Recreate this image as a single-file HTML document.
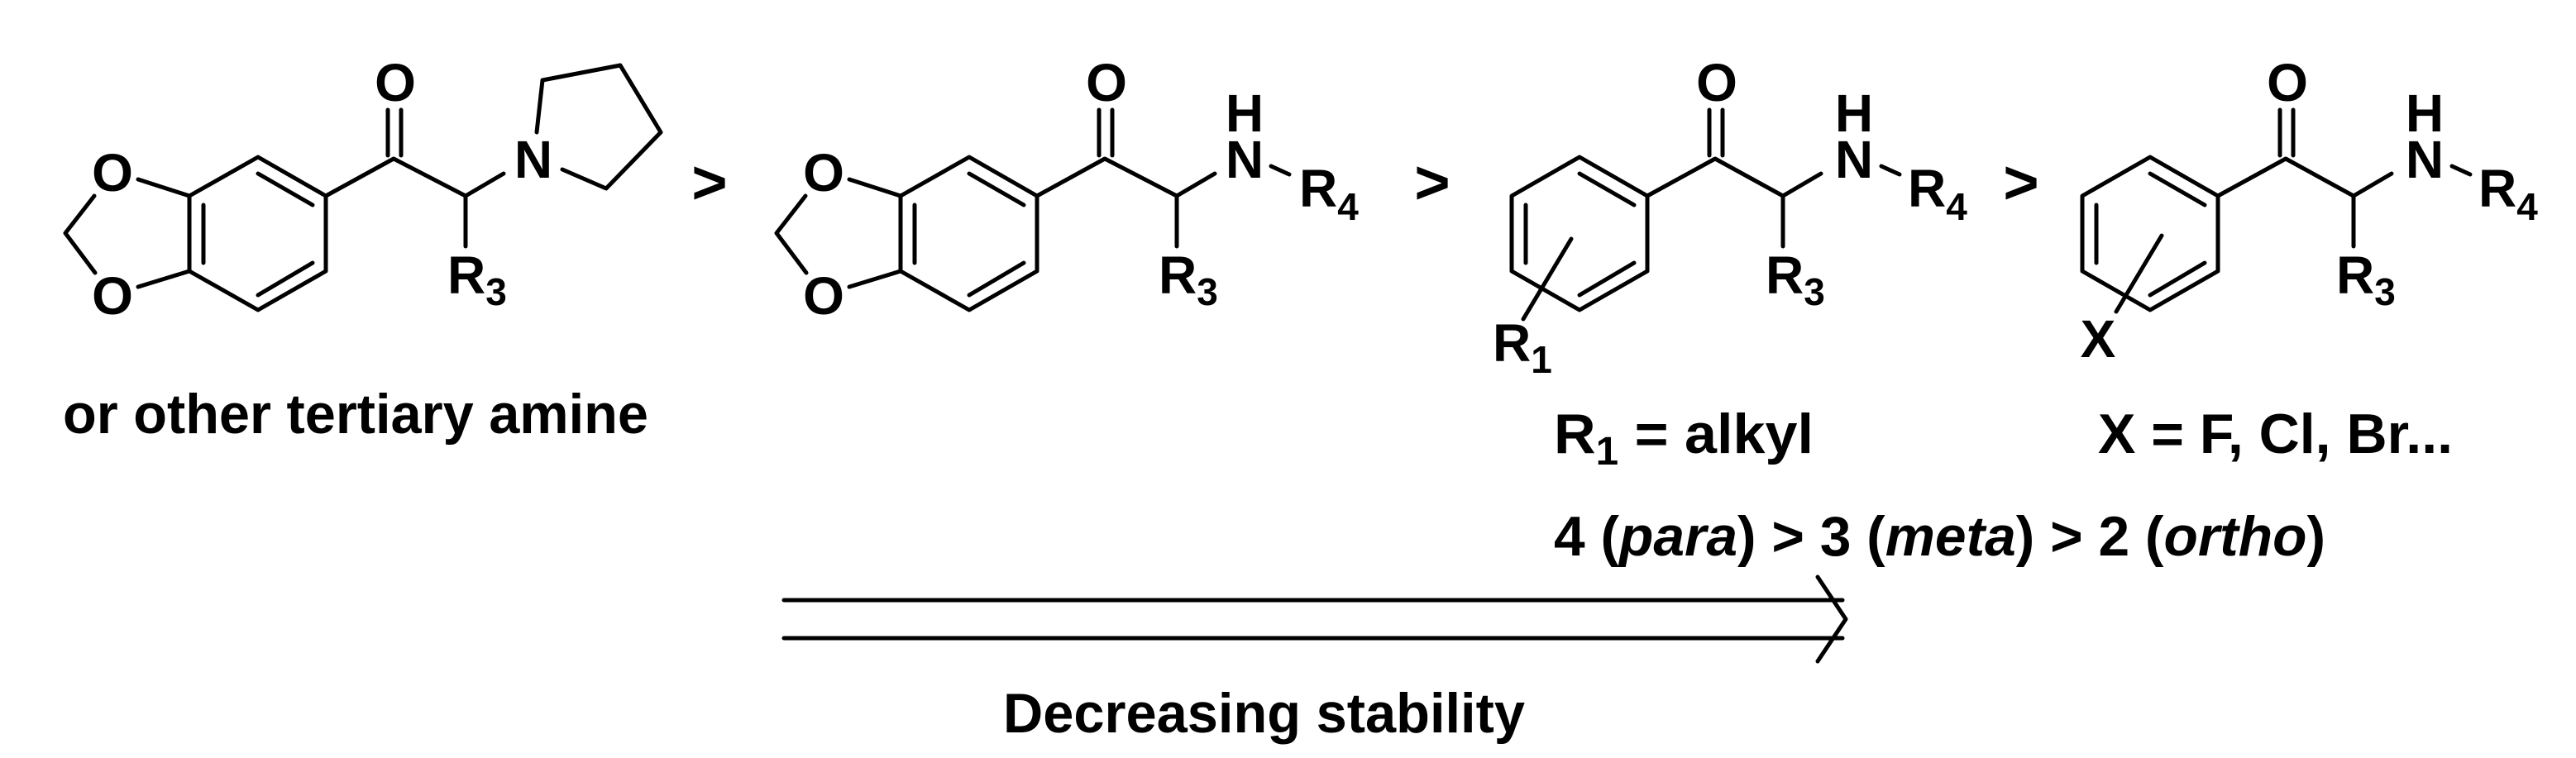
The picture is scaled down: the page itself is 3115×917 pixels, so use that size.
<!DOCTYPE html>
<html><head><meta charset="utf-8"><style>
html,body{margin:0;padding:0;background:#fff;}
svg{display:block;}
text{font-family:"Liberation Sans",Arial,sans-serif;font-weight:bold;fill:#000;}
</style></head><body>
<svg width="3115" height="917" viewBox="0 0 3115 917" xmlns="http://www.w3.org/2000/svg">
<g stroke="#000" stroke-width="5" fill="none" stroke-linecap="round" stroke-linejoin="round">
<!-- Molecule 1 -->
<polygon points="312,190 394,237 394,328 312,375 229,328 229,237"/>
<line x1="312" y1="210" x2="378" y2="248"/>
<line x1="246" y1="248" x2="246" y2="318"/>
<line x1="312" y1="357" x2="378" y2="318"/>
<line x1="229" y1="237" x2="167" y2="217"/>
<polyline points="114,237 79,282 115,330"/>
<line x1="167" y1="347" x2="229" y2="328"/>
<polyline points="394,237 476,192 563,237 563,298"/>
<line x1="469" y1="133" x2="469" y2="188"/>
<line x1="485" y1="133" x2="485" y2="188"/>
<line x1="563" y1="237" x2="609" y2="210"/>
<polyline points="649,160 656,97 750,79 799,160 733,228 680,205"/>

<!-- Molecule 2 -->
<g transform="translate(860,0)">
<polygon points="312,190 394,237 394,328 312,375 229,328 229,237"/>
<line x1="312" y1="210" x2="378" y2="248"/>
<line x1="246" y1="248" x2="246" y2="318"/>
<line x1="312" y1="357" x2="378" y2="318"/>
<line x1="229" y1="237" x2="167" y2="217"/>
<polyline points="114,237 79,282 115,330"/>
<line x1="167" y1="347" x2="229" y2="328"/>
<polyline points="394,237 476,192 563,237 563,298"/>
<line x1="469" y1="133" x2="469" y2="188"/>
<line x1="485" y1="133" x2="485" y2="188"/>
<line x1="563" y1="237" x2="609" y2="210"/>
<line x1="677" y1="201" x2="699" y2="211"/>
</g>

<!-- Molecule 3 and 4 -->
<g>
<polygon points="1910,190 1992,237 1992,328 1910,375 1828,328 1828,237"/>
<line x1="1910" y1="210" x2="1976" y2="248"/>
<line x1="1845" y1="248" x2="1845" y2="318"/>
<line x1="1910" y1="357" x2="1976" y2="318"/>
<polyline points="1992,237 2074,192 2156,237 2156,298"/>
<line x1="2067" y1="133" x2="2067" y2="188"/>
<line x1="2083" y1="133" x2="2083" y2="188"/>
<line x1="2156" y1="237" x2="2202" y2="210"/>
<line x1="2275" y1="201" x2="2297" y2="211"/>
</g>
<line x1="1900" y1="289" x2="1842" y2="386"/>
<g transform="translate(690,0)">
<polygon points="1910,190 1992,237 1992,328 1910,375 1828,328 1828,237"/>
<line x1="1910" y1="210" x2="1976" y2="248"/>
<line x1="1845" y1="248" x2="1845" y2="318"/>
<line x1="1910" y1="357" x2="1976" y2="318"/>
<polyline points="1992,237 2074,192 2156,237 2156,298"/>
<line x1="2067" y1="133" x2="2067" y2="188"/>
<line x1="2083" y1="133" x2="2083" y2="188"/>
<line x1="2156" y1="237" x2="2202" y2="210"/>
<line x1="2275" y1="201" x2="2297" y2="211"/>
</g>
<line x1="2614" y1="285" x2="2559" y2="377"/>

<!-- Arrow -->
<line x1="948" y1="726" x2="2228" y2="726"/>
<line x1="948" y1="772" x2="2228" y2="772"/>
<polyline points="2198,698 2232,749 2198,800"/>
</g>

<!-- Labels mol1 -->
<text x="478" y="122" font-size="64" text-anchor="middle">O</text>
<text x="136" y="231" font-size="64" text-anchor="middle">O</text>
<text x="136" y="380" font-size="64" text-anchor="middle">O</text>
<text x="541" y="355" font-size="64">R<tspan font-size="46" dy="14">3</tspan></text>
<text x="645" y="215" font-size="64" text-anchor="middle">N</text>
<text x="858" y="246" font-size="74" text-anchor="middle">&gt;</text>

<!-- mol2 -->
<text x="1338" y="122" font-size="64" text-anchor="middle">O</text>
<text x="996" y="231" font-size="64" text-anchor="middle">O</text>
<text x="996" y="380" font-size="64" text-anchor="middle">O</text>
<text x="1401" y="355" font-size="64">R<tspan font-size="46" dy="14">3</tspan></text>
<text x="1505" y="215" font-size="64" text-anchor="middle">N</text>
<text x="1505" y="159" font-size="64" text-anchor="middle">H</text>
<text x="1571" y="250" font-size="64">R<tspan font-size="46" dy="16">4</tspan></text>
<text x="1732" y="246" font-size="74" text-anchor="middle">&gt;</text>

<!-- mol3 -->
<text x="2076" y="122" font-size="64" text-anchor="middle">O</text>
<text x="2135" y="355" font-size="64">R<tspan font-size="46" dy="14">3</tspan></text>
<text x="2242" y="215" font-size="64" text-anchor="middle">N</text>
<text x="2242" y="159" font-size="64" text-anchor="middle">H</text>
<text x="2307" y="250" font-size="64">R<tspan font-size="46" dy="16">4</tspan></text>
<text x="1805" y="437" font-size="64">R<tspan font-size="46" dy="14">1</tspan></text>
<text x="2444" y="246" font-size="74" text-anchor="middle">&gt;</text>

<!-- mol4 -->
<text x="2766" y="122" font-size="64" text-anchor="middle">O</text>
<text x="2825" y="355" font-size="64">R<tspan font-size="46" dy="14">3</tspan></text>
<text x="2932" y="215" font-size="64" text-anchor="middle">N</text>
<text x="2932" y="159" font-size="64" text-anchor="middle">H</text>
<text x="2997" y="250" font-size="64">R<tspan font-size="46" dy="16">4</tspan></text>
<text x="2537" y="432" font-size="64" text-anchor="middle">X</text>

<!-- captions -->
<text x="76" y="524" font-size="68" textLength="708" lengthAdjust="spacingAndGlyphs">or other tertiary amine</text>
<text x="1879" y="548" font-size="68" textLength="314" lengthAdjust="spacingAndGlyphs">R<tspan font-size="48" dy="14">1</tspan><tspan dy="-14"> = alkyl</tspan></text>
<text x="2537" y="548" font-size="68" textLength="429" lengthAdjust="spacingAndGlyphs">X = F, Cl, Br...</text>
<text x="1879" y="672" font-size="68" textLength="933" lengthAdjust="spacingAndGlyphs">4 (<tspan font-style="italic">para</tspan>) &gt; 3 (<tspan font-style="italic">meta</tspan>) &gt; 2 (<tspan font-style="italic">ortho</tspan>)</text>
<text x="1213" y="886" font-size="68" textLength="631" lengthAdjust="spacingAndGlyphs">Decreasing stability</text>
</svg>
</body></html>
